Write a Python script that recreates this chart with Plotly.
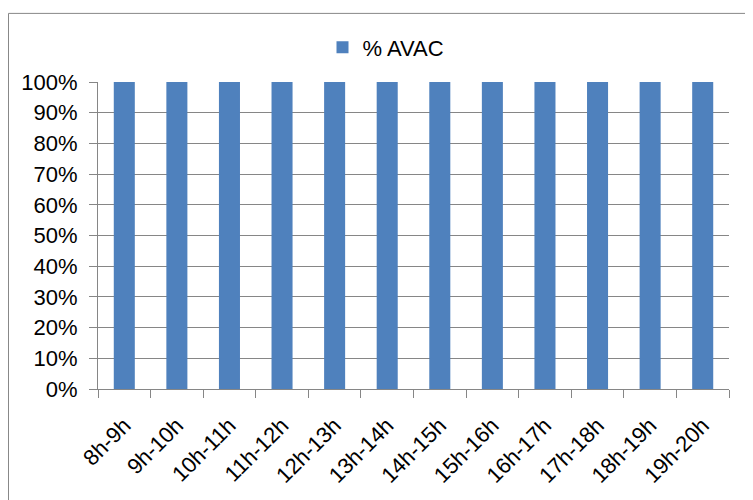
import plotly.graph_objects as go

categories = ["8h-9h", "9h-10h", "10h-11h", "11h-12h", "12h-13h", "13h-14h",
              "14h-15h", "15h-16h", "16h-17h", "17h-18h", "18h-19h", "19h-20h"]
avac = [1.0] * 12
series_name = "% AVAC"
y_ticks = [i / 10 for i in range(11)]

# page offset of 8px (default body margin)
OFF = 8
L, R, T, B = 98 - OFF, 729 - OFF, 82 - OFF, 393 - OFF
W, H = 753 - OFF, 500 - OFF
pw, ph = R - L, B - T

def px_to_paper_x(x):
    return (x - OFF - L) / pw

def px_to_paper_y(y):
    return (B - (y - OFF)) / ph

fig = go.Figure()
fig.add_trace(go.Bar(x=categories, y=avac, name=series_name,
                     marker=dict(color="#4F81BD", line=dict(width=0))))

fig.update_layout(
    width=W, height=H,
    margin=dict(l=L, r=W - R, t=T, b=H - B),
    paper_bgcolor="white", plot_bgcolor="white",
    font=dict(family="Liberation Sans, Arial, sans-serif", size=22, color="black"),
    bargap=0.6,
    showlegend=True,
    legend=dict(orientation="h", x=px_to_paper_x(386), xanchor="center",
                y=px_to_paper_y(47), yanchor="middle",
                font=dict(size=22), bgcolor="rgba(0,0,0,0)"),
    shapes=[dict(type="rect", xref="paper", yref="paper",
                 x0=px_to_paper_x(8.5), x1=px_to_paper_x(751.5),
                 y0=px_to_paper_y(560), y1=px_to_paper_y(12.5),
                 line=dict(color="#888888", width=1), fillcolor="rgba(0,0,0,0)",
                 layer="below")],
)
fig.update_xaxes(type="category", tickson="boundaries", ticks="outside", ticklen=8,
                 tickcolor="#868686", showline=True, linecolor="#868686", linewidth=1,
                 tickangle=-45, showgrid=False, tickfont=dict(size=22),
                 ticklabelstandoff=14)
fig.update_yaxes(range=[0, 1], tickvals=y_ticks, tickformat=".0%", ticks="outside",
                 ticklen=8, tickcolor="#868686", showline=True, linecolor="#868686",
                 showgrid=True, gridcolor="#868686", gridwidth=1, zeroline=False,
                 tickfont=dict(size=22), ticklabelstandoff=7)

fig.write_html("out.html")
